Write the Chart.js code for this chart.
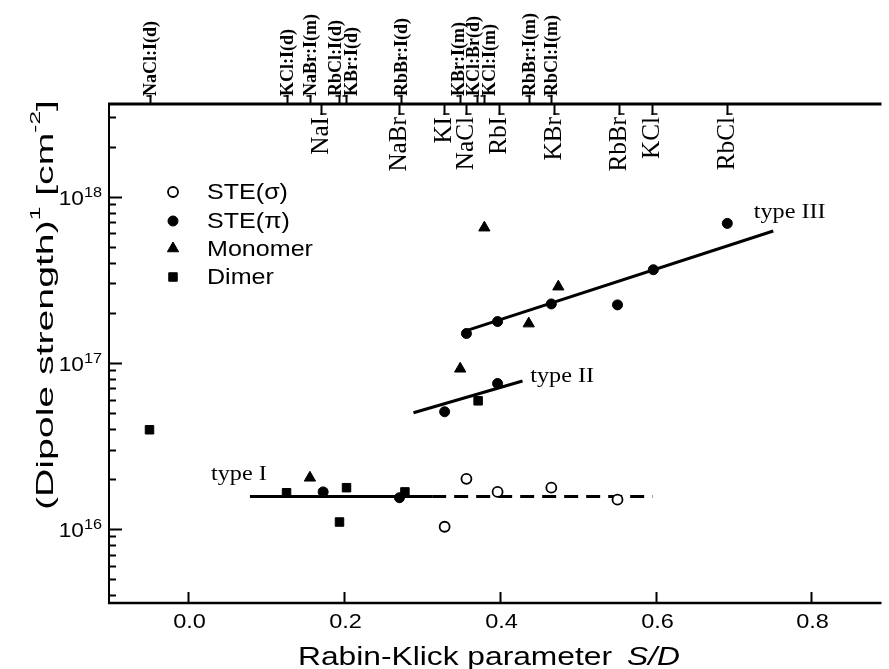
<!DOCTYPE html>
<html>
<head>
<meta charset="utf-8">
<script src="https://cdn.jsdelivr.net/npm/chart.js@4.4.1/dist/chart.umd.min.js"></script>
<style>
  html, body { margin: 0; padding: 0; background: #fff; }
  #wrap { width: 889px; height: 669px; }
</style>
</head>
<body>
<div id="wrap"><canvas id="chart"></canvas></div>
<script>
// Dipole strength vs Rabin-Klick parameter S/D.
const steSigma = [
  { x: 0.329, y: 1.03e16 }, { x: 0.357, y: 2.0e16 }, { x: 0.397, y: 1.67e16 },
  { x: 0.466, y: 1.77e16 }, { x: 0.551, y: 1.50e16 },
];
const stePi = [
  { x: 0.173, y: 1.67e16 }, { x: 0.271, y: 1.54e16 }, { x: 0.329, y: 5.07e16 },
  { x: 0.357, y: 1.50e17 }, { x: 0.397, y: 7.5e16 }, { x: 0.397, y: 1.77e17 },
  { x: 0.466, y: 2.26e17 }, { x: 0.551, y: 2.23e17 }, { x: 0.597, y: 3.63e17 },
  { x: 0.692, y: 6.9e17 },
];
const monomer = [
  { x: 0.156, y: 2.03e16 }, { x: 0.349, y: 9.2e16 }, { x: 0.380, y: 6.5e17 },
  { x: 0.437, y: 1.72e17 }, { x: 0.475, y: 2.87e17 },
];
const dimer = [
  { x: -0.05, y: 3.95e16 }, { x: 0.126, y: 1.65e16 }, { x: 0.194, y: 1.10e16 },
  { x: 0.203, y: 1.77e16 }, { x: 0.278, y: 1.67e16 }, { x: 0.372, y: 5.9e16 },
];

// fitted trend lines
const typeILine = [{ x: 0.079, y: 1.565e16 }, { x: 0.313, y: 1.565e16 }];
const typeIExtension = [{ x: 0.313, y: 1.565e16 }, { x: 0.596, y: 1.565e16 }];
const typeIILine = [{ x: 0.289, y: 5.0e16 }, { x: 0.429, y: 7.76e16 }];
const typeIIILine = [{ x: 0.353, y: 1.54e17 }, { x: 0.751, y: 6.21e17 }];

const typeLabels = ['type I', 'type II', 'type III'];
const typeLabelAt = [{ x: 0.029, y: 1.97e16 }, { x: 0.439, y: 7.66e16 }, { x: 0.726, y: 7.4e17 }];

// top axis: impurity centres above the line, host crystals below
const impurityLabels = ['NaCl:I(d)', 'KCl:I(d)', 'NaBr:I(m)', 'RbCl:I(d)', 'KBr:I(d)', 'RbBr:I(d)',
  'KBr:I(m)', 'KCl:Br(d)', 'KCl:I(m)', 'RbBr:I(m)', 'RbCl:I(m)'];
const impurityS = [-0.049, 0.126, 0.156, 0.193, 0.202, 0.2735, 0.3485, 0.371, 0.3795, 0.4375, 0.465];
const hostLabels = ['NaI', 'NaBr', 'KI', 'NaCl', 'RbI', 'KBr', 'RbBr', 'KCl', 'RbCl'];
const hostS = [0.170, 0.270, 0.3286, 0.356, 0.3986, 0.4693, 0.553, 0.5957, 0.692];

const xTicks = [0, 0.2, 0.4, 0.6, 0.8];
const yTicks = [1e16, 1e17, 1e18];
const yTickExp = ['16', '17', '18'];

// crowded impurity labels are pushed sideways off their ticks, as in the print
const impurityNudge = [0, 0, 0, -4, 5, 0, -2, -4, 5, 0, 0];

const SANS = '"Liberation Sans", Arial, sans-serif';
const SERIF = '"Liberation Serif", "Times New Roman", serif';

function drawText(ctx, runs, x, y, o = {}) {
  ctx.save();
  ctx.translate(x, y);
  if (o.rot) ctx.rotate(o.rot);
  ctx.textBaseline = o.baseline || 'alphabetic';
  ctx.textAlign = 'left';
  ctx.fillStyle = '#000';
  let w = 0;
  for (const r of runs) { ctx.font = r.font; w += ctx.measureText(r.text).width; }
  const sx = o.width ? o.width / w : (o.sx || 1);
  ctx.scale(sx, o.sy || 1);
  let cx = o.align === 'right' ? -w : o.align === 'center' ? -w / 2 : 0;
  for (const r of runs) {
    ctx.font = r.font;
    ctx.fillText(r.text, cx, r.dy || 0);
    cx += ctx.measureText(r.text).width;
  }
  ctx.restore();
}

function drawMarker(ctx, ds, x, y) {
  const r = ds.pointRadius;
  ctx.save();
  ctx.beginPath();
  if (ds.pointStyle === 'triangle') {
    for (let i = 0; i < 3; i++) {
      const a = i * 2 * Math.PI / 3;
      ctx.lineTo(x + Math.sin(a) * r, y - Math.cos(a) * r);
    }
    ctx.closePath();
  } else if (ds.pointStyle === 'rect') {
    const s = Math.SQRT1_2 * r;
    ctx.rect(x - s, y - s, 2 * s, 2 * s);
  } else {
    ctx.arc(x, y, r, 0, Math.PI * 2);
  }
  ctx.fillStyle = ds.pointBackgroundColor;
  ctx.fill();
  ctx.lineWidth = ds.pointBorderWidth;
  ctx.strokeStyle = ds.pointBorderColor;
  ctx.stroke();
  ctx.restore();
}

function line(ctx, x1, y1, x2, y2, w) {
  ctx.beginPath();
  ctx.lineWidth = w;
  ctx.moveTo(x1, y1);
  ctx.lineTo(x2, y2);
  ctx.stroke();
}

const framePlugin = {
  id: 'frame',
  afterDatasetsDraw(chart) {
    const { ctx, chartArea: a, scales: { x, y } } = chart;
    ctx.save();
    ctx.strokeStyle = '#000';

    // axis lines
    line(ctx, a.left, a.top - 1, a.left, a.bottom + 1, 2);
    line(ctx, a.left - 1, a.bottom, a.right, a.bottom, 2.5);
    line(ctx, a.left - 1, a.top, a.right, a.top, 3);

    // log ticks on the left, pointing inward
    for (let e = 15; e <= 18; e++) {
      for (let m = 1; m <= 9; m++) {
        const v = m * Math.pow(10, e);
        if (v < y.min || v > y.max) continue;
        const py = Math.round(y.getPixelForValue(v)) + 0.5;
        line(ctx, a.left, py, a.left + (m === 1 ? 13 : 7), py, 2);
      }
    }
    yTicks.forEach((v, i) => {
      const py = y.getPixelForValue(v);
      drawText(ctx, [
        { text: '10', font: `21px ${SANS}` },
        { text: yTickExp[i], font: `15px ${SANS}`, dy: -8 },
      ], 102, py + 8.5, { align: 'right', sx: 1.08 });
    });

    // bottom ticks and labels
    xTicks.forEach((v) => {
      const px = Math.round(x.getPixelForValue(v)) + 0.5;
      line(ctx, px, a.bottom, px, a.bottom - 11, 2);
      drawText(ctx, [{ text: v.toFixed(1), font: `21px ${SANS}` }], px + 1, 628, { align: 'center', sx: 1.12 });
    });

    // axis titles
    drawText(ctx, [{ text: 'Rabin-Klick parameter', font: `25px ${SANS}` }], 298, 665, { width: 314 });
    drawText(ctx, [{ text: 'S/D', font: `italic 25px ${SANS}` }], 627, 665, { width: 53 });
    drawText(ctx, [
      { text: '(Dipole strength)', font: `24px ${SANS}` },
      { text: '1', font: `15px ${SANS}`, dy: -10 },
      { text: ' [cm', font: `24px ${SANS}` },
      { text: '-2', font: `15px ${SANS}`, dy: -10 },
      { text: ']', font: `24px ${SANS}` },
    ], 46, 305, { rot: -Math.PI / 2, align: 'center', baseline: 'middle', width: 410 });

    // top axis labels
    impurityLabels.forEach((t, i) => {
      const px = Math.round(x.getPixelForValue(impurityS[i])) + 0.5;
      line(ctx, px, a.top, px, a.top - 9, 2);
      line(ctx, px - 4, a.top - 8, px + 1, a.top - 8, 1.5);
      drawText(ctx, [{ text: t, font: `bold 18px ${SERIF}` }], px + impurityNudge[i], a.top - 8,
        { rot: -Math.PI / 2, baseline: 'middle', sy: 1.08 });
    });
    hostLabels.forEach((t, i) => {
      const px = Math.round(x.getPixelForValue(hostS[i])) + 0.5;
      line(ctx, px, a.top, px, a.top + 11, 2);
      line(ctx, px - 1, a.top + 10, px + 5, a.top + 10, 1.5);
      drawText(ctx, [{ text: t, font: `24px ${SERIF}` }], px, a.top + 13,
        { rot: -Math.PI / 2, align: 'right', baseline: 'middle', sx: 1.05, sy: 1.08 });
    });

    // type labels
    typeLabels.forEach((t, i) => {
      drawText(ctx, [{ text: t, font: `22px ${SERIF}` }],
        x.getPixelForValue(typeLabelAt[i].x), y.getPixelForValue(typeLabelAt[i].y), { sx: 1.1 });
    });

    // legend inside the plot
    const rows = [192, 221, 248.5, 277];
    chart.data.datasets.slice(0, 4).forEach((ds, i) => {
      drawMarker(ctx, ds, 173, rows[i]);
      drawText(ctx, [{ text: ds.label, font: `22px ${SANS}` }], 207, rows[i] + 1,
        { baseline: 'middle', sx: 1.14 });
    });
    ctx.restore();
  },
};

function markers(label, data, style, r, fill, bw) {
  return {
    label, data, pointStyle: style, pointRadius: r,
    pointBackgroundColor: fill, pointBorderColor: '#000', pointBorderWidth: bw,
    showLine: false,
  };
}

function trend(data, dash) {
  return {
    label: '', data, showLine: true, pointRadius: 0, borderColor: '#000',
    borderWidth: 3, borderDash: dash || [], fill: false,
  };
}

new Chart(document.getElementById('chart'), {
  type: 'scatter',
  data: {
    datasets: [
      markers('STE(\u03c3)', steSigma, 'circle', 5, '#fff', 1.8),
      markers('STE(\u03c0)', stePi, 'circle', 5, '#000', 1),
      markers('Monomer', monomer, 'triangle', 6.5, '#000', 1),
      markers('Dimer', dimer, 'rect', 6, '#000', 1),
      trend(typeILine),
      trend(typeIExtension, [14, 8]),
      trend(typeIILine),
      trend(typeIIILine),
    ],
  },
  options: {
    responsive: true,
    maintainAspectRatio: false,
    animation: false,
    events: [],
    layout: { padding: { left: 109, right: 0, top: 104, bottom: 66 } },
    scales: {
      x: { type: 'linear', min: -0.102, max: 0.89, display: false },
      y: { type: 'logarithmic', min: 3.58e15, max: 3.61e18, display: false },
    },
    plugins: { legend: { display: false }, tooltip: { enabled: false } },
  },
  plugins: [framePlugin],
});
</script>
</body>
</html>
